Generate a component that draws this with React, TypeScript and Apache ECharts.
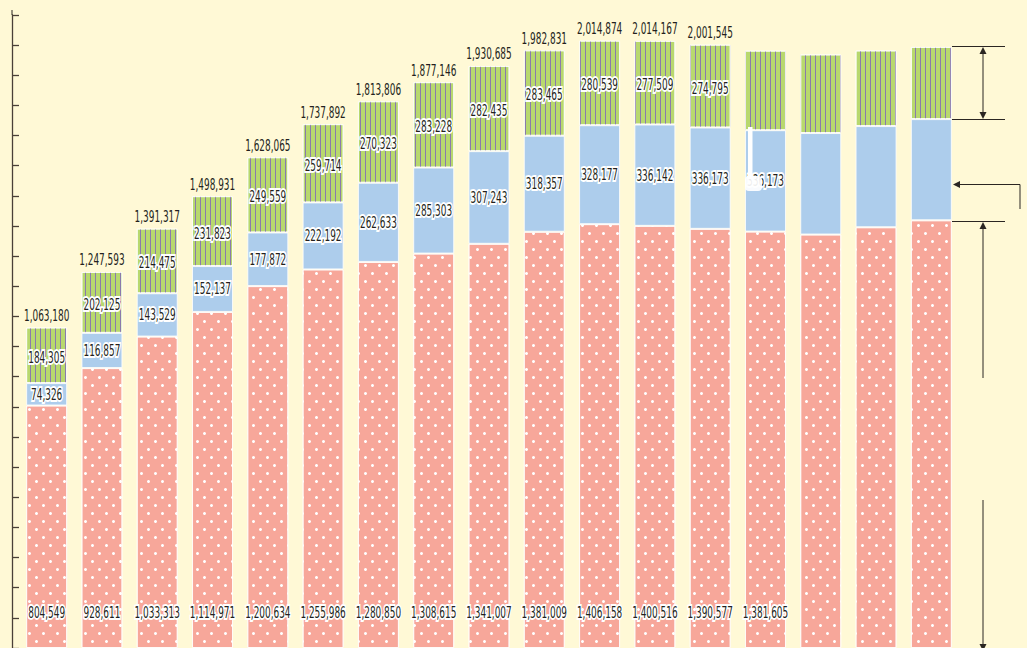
import React, { useEffect, useRef } from 'react';
import * as echarts from 'echarts';

const categories = ['1', '2', '3', '4', '5', '6', '7', '8', '9', '10', '11', '12', '13', '14', '15', '16', '17'];
const redValues = [804549, 928611, 1033313, 1114971, 1200634, 1255986, 1280850, 1308615, 1341007, 1381009, 1406158, 1400516, 1390577, 1381605, 1371800, 1395900, 1419000];
const blueValues = [74326, 116857, 143529, 152137, 177872, 222192, 262633, 285303, 307243, 318357, 328177, 336142, 336173, 336173, 336600, 335600, 335600];
const greenValues = [184305, 202125, 214475, 231823, 249559, 259714, 270323, 283228, 282435, 283465, 280539, 277509, 274795, 264000, 260700, 250800, 239600];
const totalValues = [1063180, 1247593, 1391317, 1498931, 1628065, 1737892, 1813806, 1877146, 1930685, 1982831, 2014874, 2014167, 2001545, null, null, null, null];
const redLabeledCount = 14;
const blueLabeledCount = 14;
const greenLabeledCount = 13;

const FONT = "'DejaVu Sans Condensed', 'Liberation Sans Narrow', 'DejaVu Sans', sans-serif";
const fmt = (v: number) => Number(v).toLocaleString('en-US');

// label items: [categoryIndex, low, high, shownValue, kind]
const labelItems: number[][] = [];
categories.forEach((_, i) => {
  const r = redValues[i];
  const b = blueValues[i];
  const g = greenValues[i];
  if (i < redLabeledCount) labelItems.push([i, 0, r, r, 0]);
  if (i < blueLabeledCount) labelItems.push([i, r, r + b, b, 1]);
  if (i < greenLabeledCount) labelItems.push([i, r + b, r + b + g, g, 2]);
  const t = totalValues[i];
  if (t != null) labelItems.push([i, t, t, t, 3]);
});

export default function App() {
  const ref = useRef<HTMLDivElement>(null);
  useEffect(() => {
    document.body.style.margin = '0';
    const chart = echarts.init(ref.current!, null, { renderer: 'svg' });
    const ink = '#2b2622';
    const line = (x1: number, y1: number, x2: number, y2: number) => ({
      type: 'line', z: 100, shape: { x1, y1, x2, y2 }, style: { stroke: ink, lineWidth: 1 },
    });
    const tri = (pts: number[][]) => ({ type: 'polygon', z: 100, shape: { points: pts }, style: { fill: ink } });
    chart.setOption({
      animation: false,
      backgroundColor: '#FFF9D6',
      grid: { left: 19, right: 68, top: 15, bottom: -3 },
      xAxis: {
        type: 'category',
        data: categories,
        show: false,
      },
      yAxis: {
        type: 'value',
        min: 0,
        max: 2100000,
        interval: 100000,
        offset: 7,
        axisLine: { show: true, lineStyle: { color: '#4a4038', width: 1.3 } },
        axisTick: { show: true, inside: true, length: 7, lineStyle: { color: '#4a4038', width: 1.3 } },
        axisLabel: { show: false },
        splitLine: { show: false },
      },
      series: [
        {
          name: 'red',
          type: 'bar',
          stack: 'total',
          barWidth: 41,
          data: redValues,
          itemStyle: {
            color: '#F7A79A',
            borderColor: 'rgba(255,255,255,0.7)',
            borderWidth: 1,
            decal: {
              symbol: 'circle',
              symbolSize: 1,
              color: '#ffffff',
              dashArrayX: [[3, 11], [0, 7, 3, 4]],
              dashArrayY: [3, 5],
            },
          },
        },
        {
          name: 'blue',
          type: 'bar',
          stack: 'total',
          barWidth: 41,
          data: blueValues,
          itemStyle: { color: '#ADCDEC', borderColor: 'rgba(255,255,255,0.8)', borderWidth: 1 },
        },
        {
          name: 'green',
          type: 'bar',
          stack: 'total',
          barWidth: 41,
          data: greenValues,
          itemStyle: {
            color: '#B8D86E',
            borderColor: 'rgba(255,255,255,0.7)',
            borderWidth: 1,
            decal: {
              symbol: 'rect',
              symbolSize: 1,
              symbolKeepAspect: false,
              color: '#8A7AAC',
              dashArrayX: [1, 4],
              dashArrayY: [20, 0],
            },
          },
        },
        {
          name: 'labels',
          type: 'custom',
          coordinateSystem: 'cartesian2d',
          data: labelItems,
          encode: { x: 0, y: [1, 2] },
          z: 10,
          clip: false,
          silent: true,
          renderItem: (params: any, api: any) => {
            const i = api.value(0);
            const low = api.value(1);
            const high = api.value(2);
            const val = api.value(3);
            const kind = api.value(4);
            const base = api.coord([i, low]);
            const top = api.coord([i, high]);
            let y: number;
            if (kind === 0) y = base[1] - 35;
            else if (kind === 3) y = top[1] - 12;
            else y = (base[1] + top[1]) / 2 + (kind === 2 ? 2 : 0);
            return {
              type: 'text',
              x: base[0],
              y,
              scaleX: 0.62,
              style: {
                text: fmt(val),
                x: 0,
                y: 0,
                align: 'center',
                verticalAlign: 'middle',
                fontFamily: FONT,
                fontSize: 16,
                fill: '#231f20',
                stroke: kind === 3 ? null : '#ffffff',
                lineWidth: kind === 3 ? 0 : 4,
                strokeFirst: true,
              },
            };
          },
        },
      ],
      graphic: [
        line(12, 10, 12, 15),
        // top bracket
        line(952, 46.5, 1005, 46.5),
        line(952, 119.5, 1005, 119.5),
        line(983, 50, 983, 116),
        tri([[983, 47], [979.5, 54], [986.5, 54]]),
        tri([[983, 119], [979.5, 112], [986.5, 112]]),
        // bottom bracket
        line(952, 221.5, 1005, 221.5),
        line(983, 226, 983, 378),
        tri([[983, 222], [979.5, 229], [986.5, 229]]),
        line(983, 500, 983, 646),
        tri([[983, 651], [979.5, 644], [986.5, 644]]),
        // middle pointer
        line(956, 184.5, 1020, 184.5),
        line(1020, 184.5, 1020, 209),
        tri([[953, 184.5], [960, 181], [960, 188]]),
        // white marks on bar 14
        { type: 'rect', z: 100, shape: { x: 748, y: 127, width: 4.5, height: 52 }, style: { fill: '#ffffff' } },
        { type: 'rect', z: 100, shape: { x: 745, y: 176, width: 17, height: 15, r: 4 }, style: { fill: '#ffffff', opacity: 0.92 } },
        { type: 'rect', z: 100, shape: { x: 769, y: 601, width: 2, height: 15 }, style: { fill: '#ffffff' } },
      ],
    });
    return () => chart.dispose();
  }, []);
  return <div ref={ref} style={{ width: 1027, height: 648 }} />;
}
